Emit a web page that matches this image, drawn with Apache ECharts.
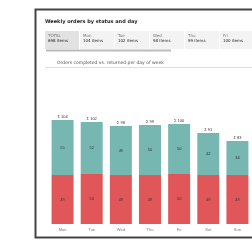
<!DOCTYPE html>
<html lang="en">
	<head>
		<meta charset="UTF-8">
		<title>stacked bars</title>
		<style>
			html, body { margin: 0; padding: 0; background: #fff; overflow: hidden; }
		</style>
	</head>
	<body>
		<div id="main" style="width: 252px;height:240px;"></div>
		<script type="text/javascript" src="https://cdn.jsdelivr.net/npm/echarts@6/dist/echarts.min.js"></script>
		<script type="text/javascript">
			// data
			var categories = ['Mon', 'Tue', 'Wed', 'Thu', 'Fri', 'Sat', 'Sun'];
			var redValues = [49, 50, 49, 49, 50, 49, 49];
			var tealValues = [55, 52, 49, 50, 50, 42, 34];
			var kpiLabels = ['TOTAL', 'Mon', 'Tue', 'Wed', 'Thu', 'Fri', 'Sat'];
			var kpiValues = ['698', '104', '102', '98', '99', '100', '91'];

			var totals = categories.map(function (c, i) { return redValues[i] + tealValues[i]; });

			var myChart = echarts.init(document.getElementById('main'));

			// header boxes
			var header = [];
			kpiLabels.forEach(function (lab, i) {
				var x = 45 + i * 35;
				header.push({
					type: 'rect',
					shape: { x: x, y: 31, width: 34, height: 18 },
					style: { fill: i === 0 ? '#e2e2e2' : '#f3f3f3' }
				});
				header.push({
					type: 'text', x: x + 3, y: 34,
					style: { text: lab, fontSize: 4, fill: '#777', fontFamily: 'DejaVu Sans' }
				});
				header.push({
					type: 'text', x: x + 3, y: 39,
					style: { text: kpiValues[i] + ' items', fontSize: 4, fill: '#222', fontFamily: 'DejaVu Sans' }
				});
			});

			var option = {
				backgroundColor: '#fff',
				animation: false,
				graphic: [
					//外框
					{
						type: 'rect',
						shape: { x: 35.5, y: 9.5, width: 300, height: 228 },
						style: { fill: '#fff', stroke: '#444', lineWidth: 2 },
						z: -10
					},
					{
						type: 'text', x: 45, y: 19.5,
						style: { text: 'Weekly orders by status and day', fontSize: 5, fontWeight: 'bold', fill: '#222', fontFamily: 'DejaVu Sans' }
					}
				].concat(header).concat([
					{
						type: 'rect',
						shape: { x: 46, y: 49.5, width: 125, height: 2 },
						style: { fill: '#bbb' }
					},
					{
						type: 'text', x: 57, y: 60,
						style: { text: 'Orders completed vs. returned per day of week', fontSize: 4.5, fill: '#555', fontFamily: 'DejaVu Sans' }
					},
					{
						type: 'line',
						shape: { x1: 46, y1: 67.5, x2: 260, y2: 67.5 },
						style: { stroke: '#ddd', lineWidth: 1 }
					}
				]),
				grid: { left: 48, width: 217, top: 84, bottom: 16 },
				xAxis: {
					type: 'category',
					data: categories,
					axisLine: { show: false },
					axisTick: { show: false },
					axisLabel: { fontSize: 4, color: '#777', margin: 4 }
				},
				yAxis: {
					type: 'value',
					min: 0,
					max: 140,
					show: false,
					splitLine: { show: false }
				},
				series: [
					{
						name: 'Returned',
						type: 'bar',
						stack: 'all',
						barWidth: 22,
						data: redValues,
						itemStyle: { color: '#e15759' },
						label: { show: true, position: 'inside', fontSize: 4, color: '#333' }
					},
					{
						name: 'Completed',
						type: 'bar',
						stack: 'all',
						barWidth: 22,
						data: tealValues,
						itemStyle: { color: '#76b7b2' },
						label: { show: true, position: 'inside', fontSize: 4, color: '#333' }
					},
					{
						name: 'Total',
						type: 'bar',
						stack: 'all',
						barWidth: 22,
						data: totals.map(function () { return 0; }),
						label: {
							show: true,
							position: 'top',
							distance: 1,
							fontSize: 4,
							color: '#333',
							formatter: function (p) { return 'Σ ' + totals[p.dataIndex]; }
						}
					}
				]
			};

			myChart.setOption(option);
		</script>
	</body>
</html>
